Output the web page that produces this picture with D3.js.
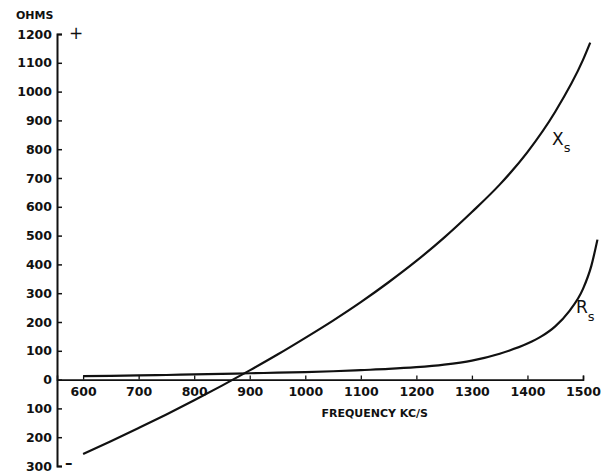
<!DOCTYPE html>
<html>
<head>
<meta charset="utf-8">
<script src="https://cdn.jsdelivr.net/npm/d3@7"></script>
<style>
  body { margin: 0; background: #fff; }
  svg { display: block; }
  .axis text { font-family: "DejaVu Sans", sans-serif; font-weight: bold; font-size: 12.5px; fill: #111; }
  .axis line, .axis path { stroke: #111; }
  .curve { fill: none; stroke: #111; stroke-width: 2.2; }
  .lbl { font-family: "DejaVu Sans", sans-serif; fill: #111; }
</style>
</head>
<body>
<div id="chart"></div>
<script>
// reactance X_s (ohms) against frequency (kc/s)
const xsFreq = [600, 650, 700, 750, 800, 850, 900, 950, 1000, 1050, 1100, 1150, 1200, 1250, 1300, 1350, 1400, 1450, 1500, 1513];
const xsOhms = [-258, -214, -168, -121, -72, -21, 32, 87, 145, 205, 269, 338, 412, 493, 582, 677, 790, 930, 1110, 1170];

// resistance R_s (ohms)
const rsFreq = [600, 650, 700, 750, 800, 850, 900, 950, 1000, 1050, 1100, 1150, 1200, 1250, 1300, 1350, 1400, 1425, 1450, 1475, 1500, 1515, 1526];
const rsOhms = [12, 13, 15, 16, 18, 20, 22, 24, 26, 29, 33, 37, 43, 52, 66, 90, 125, 150, 185, 237, 315, 395, 486];

const freqTicks = [600, 700, 800, 900, 1000, 1100, 1200, 1300, 1400, 1500];
const ohmTicks = [-300, -200, -100, 0, 100, 200, 300, 400, 500, 600, 700, 800, 900, 1000, 1100, 1200];

const width = 607;
const height = 473;

const svg = d3.select('#chart')
  .append('svg')
  .attr('width', width)
  .attr('height', height);

const x = d3.scaleLinear()
  .domain([553, 1500])
  .range([57, 583]);

const y = d3.scaleLinear()
  .domain([-300, 1200])
  .range([466, 34]);

// y axis, ticks pointing inwards, minus side shown without sign
svg.append('g')
  .attr('class', 'axis')
  .attr('transform', `translate(${x(553)}, 0)`)
  .call(d3.axisLeft(y)
    .tickValues(ohmTicks)
    .tickSizeInner(-5)
    .tickSizeOuter(-5)
    .tickPadding(5)
    .tickFormat(d => String(Math.abs(d))))
  .call(g => g.select('.domain').attr('stroke-width', 2))
  .call(g => g.selectAll('.tick line').attr('stroke-width', 1.5));

// x axis along zero, ticks pointing up
svg.append('g')
  .attr('class', 'axis')
  .attr('transform', `translate(0, ${y(0)})`)
  .call(d3.axisBottom(x)
    .tickValues(freqTicks)
    .tickSizeInner(-4)
    .tickSizeOuter(-4)
    .tickPadding(8)
    .tickFormat(d3.format('d')))
  .call(g => g.select('.domain').attr('stroke-width', 1.6))
  .call(g => g.selectAll('.tick line').attr('stroke-width', 1.3));

const line = d3.line()
  .x(d => x(d[0]))
  .y(d => y(d[1]))
  .curve(d3.curveMonotoneX);

svg.append('path')
  .attr('class', 'curve')
  .attr('d', line(d3.zip(xsFreq, xsOhms)));

svg.append('path')
  .attr('class', 'curve')
  .attr('stroke-width', 2)
  .attr('d', line(d3.zip(rsFreq, rsOhms)));

// titles and signs
svg.append('text')
  .attr('class', 'lbl')
  .attr('x', 16)
  .attr('y', 19)
  .attr('font-size', 11)
  .attr('font-weight', 'bold')
  .text('OHMS');

svg.append('text')
  .attr('class', 'lbl')
  .attr('x', 69)
  .attr('y', 39)
  .attr('font-size', 17)
  .text('+');

svg.append('text')
  .attr('class', 'lbl')
  .attr('x', 65)
  .attr('y', 468)
  .attr('font-size', 15)
  .attr('font-weight', 'bold')
  .text('–');

svg.append('text')
  .attr('class', 'lbl')
  .attr('x', x(1125))
  .attr('y', 417)
  .attr('text-anchor', 'middle')
  .attr('font-size', 11)
  .attr('font-weight', 'bold')
  .text('FREQUENCY KC/S');

// curve names with subscripts
const xsLabel = svg.append('text')
  .attr('class', 'lbl')
  .attr('x', 552)
  .attr('y', 145)
  .attr('font-size', 17);
xsLabel.append('tspan').text('X');
xsLabel.append('tspan').attr('font-size', 13).attr('dy', 7).text('s');

const rsLabel = svg.append('text')
  .attr('class', 'lbl')
  .attr('x', 576)
  .attr('y', 313)
  .attr('font-size', 17);
rsLabel.append('tspan').text('R');
rsLabel.append('tspan').attr('font-size', 13).attr('dy', 8).text('s');
</script>
</body>
</html>
